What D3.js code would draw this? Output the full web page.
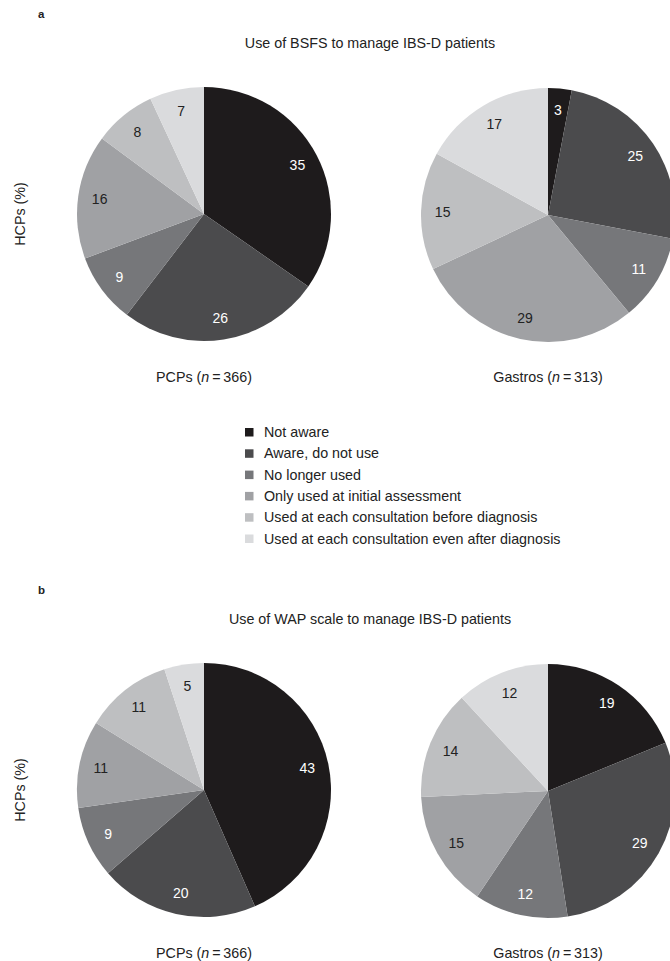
<!DOCTYPE html>
<html><head><meta charset="utf-8">
<script src="https://cdn.jsdelivr.net/npm/d3@7"></script>
<style>
html,body{margin:0;padding:0;background:#fff;overflow:hidden;}
text{font-family:"Liberation Sans",Arial,Helvetica,sans-serif;}
</style></head>
<body>
<script>
const categories = ["Not aware","Aware, do not use","No longer used","Only used at initial assessment","Used at each consultation before diagnosis","Used at each consultation even after diagnosis"];
const colors = ["#1e1b1c","#4b4b4d","#76777a","#a0a1a4","#bebfc1","#dadbdd"];
const labelColors = ["#fff","#fff","#fff","#222","#222","#222"];
const bsfsPCP = [35,26,9,16,8,7];
const bsfsGastro = [3,25,11,29,15,17];
const wapPCP = [43,20,9,11,11,5];
const wapGastro = [19,29,12,15,14,12];
const groupLabels = [["PCPs (","n","\u2009=\u2009366)"],["Gastros (","n","\u2009=\u2009313)"]];
const panelTitles = ["Use of BSFS to manage IBS-D patients","Use of WAP scale to manage IBS-D patients"];
const panelLetters = ["a","b"];

const W = 670, H = 961;
const FS = 14.3;
const svg = d3.select("body").append("svg").attr("width",W).attr("height",H);

const pie = d3.pie().sort(null).value(d=>d);
const R = 127;
const arc = d3.arc().innerRadius(0).outerRadius(R);
const labelArc = d3.arc().innerRadius(R*0.83).outerRadius(R*0.83);

function drawPie(values, cx, cy) {
  const g = svg.append("g").attr("transform",`translate(${cx},${cy})`);
  const arcs = pie(values);
  g.selectAll("path").data(arcs).join("path")
    .attr("d",arc).attr("fill",(d,i)=>colors[i]);
  g.selectAll("text").data(arcs).join("text")
    .attr("transform",d=>`translate(${labelArc.centroid(d)})`)
    .attr("text-anchor","middle").attr("dy","0.35em")
    .attr("font-size",14).attr("fill",(d,i)=>labelColors[i])
    .text(d=>d.data);
}

function groupLabel(parts, x, y) {
  const t = svg.append("text").attr("x",x).attr("y",y).attr("text-anchor","middle")
    .attr("font-size",FS).attr("fill","#222");
  t.append("tspan").text(parts[0]);
  t.append("tspan").attr("font-style","italic").text(parts[1]);
  t.append("tspan").text(parts[2]);
}

function panel(idx, top, left, right) {
  svg.append("text").attr("x",38).attr("y",top+18).attr("font-size",11.5).attr("font-weight","bold").attr("fill","#222").text(panelLetters[idx]);
  svg.append("text").attr("x",370).attr("y",top+48).attr("text-anchor","middle").attr("font-size",FS).attr("fill","#222").text(panelTitles[idx]);
  const cy = top + 214;
  svg.append("text").attr("transform",`translate(25,${cy}) rotate(-90)`).attr("text-anchor","middle")
    .attr("font-size",FS).attr("fill","#222").text("HCPs (%)");
  drawPie(left, 204, cy);
  drawPie(right, 548, cy+1);
  groupLabel(groupLabels[0], 204, cy+168);
  groupLabel(groupLabels[1], 548, cy+168);
}

panel(0, 0, bsfsPCP, bsfsGastro);
panel(1, 576, wapPCP, wapGastro);

const leg = svg.append("g").attr("transform","translate(245,432)");
categories.forEach((c,i)=>{
  const row = leg.append("g").attr("transform",`translate(0,${i*21.3})`);
  row.append("rect").attr("x",0).attr("y",-4).attr("width",8.5).attr("height",8.5).attr("fill",colors[i]);
  row.append("text").attr("x",19).attr("y",0).attr("dy","0.35em").attr("font-size",FS).attr("fill","#222").text(c);
});
</script>
</body></html>
